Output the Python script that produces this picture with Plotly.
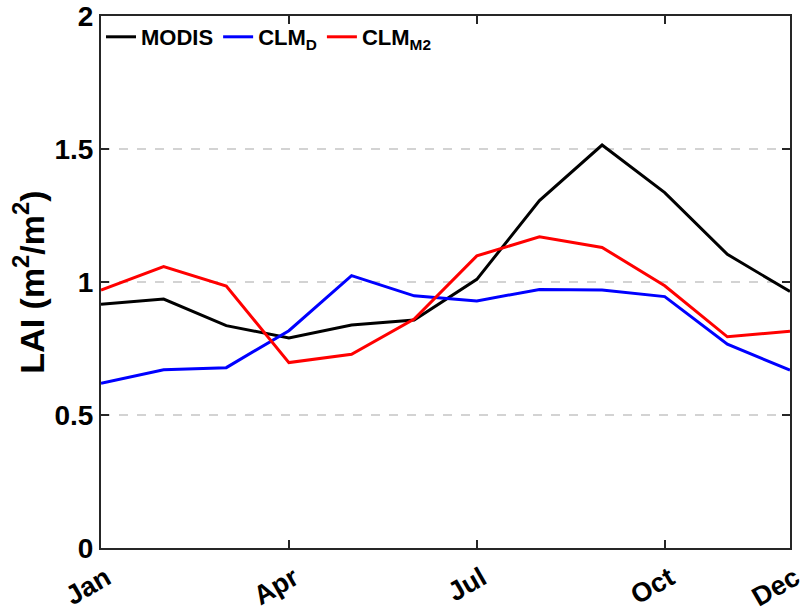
import plotly.graph_objects as go

# Monthly mean leaf area index
months = list(range(1, 13))
tick_vals = [1, 4, 7, 10, 12]
tick_text = ["Jan", "Apr", "Jul", "Oct", "Dec"]

modis = [0.916, 0.936, 0.836, 0.790, 0.838, 0.857, 1.010, 1.306, 1.515, 1.336, 1.104, 0.964]
clm_d = [0.619, 0.670, 0.678, 0.817, 1.024, 0.948, 0.929, 0.972, 0.970, 0.945, 0.766, 0.669]
clm_m2 = [0.970, 1.058, 0.985, 0.697, 0.728, 0.861, 1.098, 1.170, 1.130, 0.986, 0.794, 0.815]

series = [
    ("MODIS", modis, "#000000"),
    ("CLM<sub>D</sub>", clm_d, "#0000ff"),
    ("CLM<sub>M2</sub>", clm_m2, "#ff0000"),
]

font_family = "Liberation Sans, Arial, Helvetica, sans-serif"
axis_color = "#262626"

fig = go.Figure()
for name, vals, color in series:
    fig.add_trace(go.Scatter(
        x=months, y=vals, mode="lines", name=name,
        line=dict(color=color, width=3),
    ))

fig.update_layout(
    width=804, height=615,
    margin=dict(l=101, r=14, t=16, b=67),
    plot_bgcolor="white", paper_bgcolor="white",
    font=dict(family=font_family, color="#000000"),
    showlegend=True,
    legend=dict(
        orientation="h", x=0.0, y=1.0, xanchor="left", yanchor="top",
        bgcolor="rgba(0,0,0,0)", borderwidth=0,
        font=dict(size=22, family=font_family, weight="bold"),
        itemwidth=30, tracegroupgap=0,
    ),
)

fig.update_xaxes(
    range=[1, 12], tickmode="array", tickvals=tick_vals, ticktext=tick_text,
    tickangle=-30, tickfont=dict(size=27, weight="bold"),
    ticklabelstandoff=2, ticklabelshift=5, ticklabeloverflow="allow",
    automargin=False,
    showline=True, linecolor=axis_color, linewidth=2, mirror="ticks",
    ticks="inside", ticklen=8, tickwidth=2, tickcolor=axis_color,
    showgrid=False, zeroline=False,
)
fig.update_yaxes(
    range=[0, 2], tickmode="array", tickvals=[0, 0.5, 1, 1.5, 2],
    ticktext=["0", "0.5", "1", "1.5", "2"],
    tickfont=dict(size=28, weight="bold"), automargin=False,
    title=dict(text="LAI (m<sup>2</sup>/m<sup>2</sup>)",
               font=dict(size=34, weight="bold"), standoff=0),
    showline=True, linecolor=axis_color, linewidth=2, mirror="ticks",
    ticks="inside", ticklen=8, tickwidth=2, tickcolor=axis_color,
    showgrid=True, gridcolor="#d3d3d3", gridwidth=2, griddash="dash",
    zeroline=False,
)

fig.write_html("out.html")
